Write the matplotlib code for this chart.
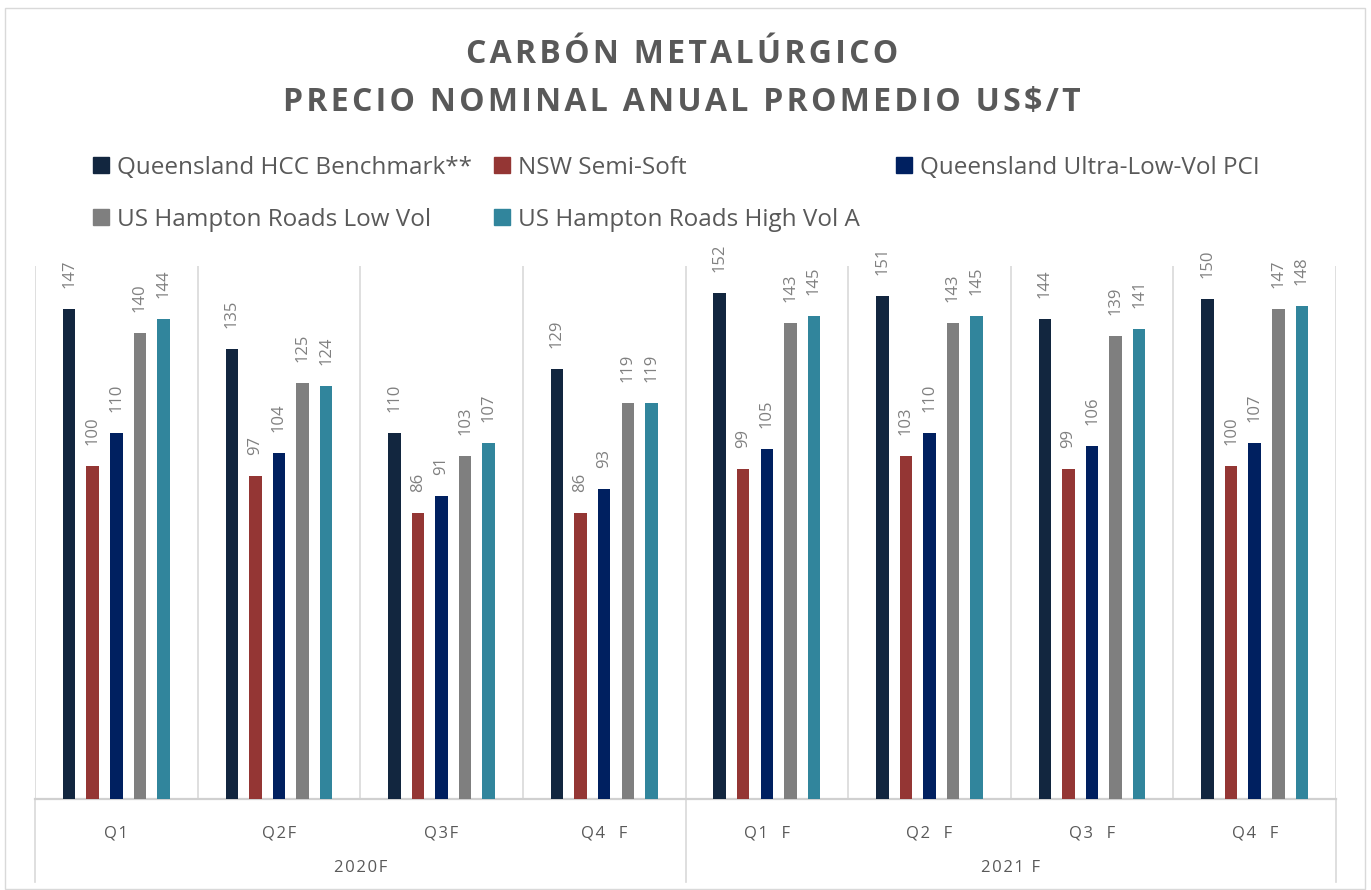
import numpy as np
import matplotlib.pyplot as plt
from matplotlib.patches import Rectangle

quarters = ["Q1", "Q2F", "Q3F", "Q4  F", "Q1  F", "Q2  F", "Q3  F", "Q4  F"]
years = ["2020F", "2021 F"]
series = ["Queensland HCC Benchmark**", "NSW Semi-Soft", "Queensland Ultra-Low-Vol PCI",
          "US Hampton Roads Low Vol", "US Hampton Roads High Vol A"]
hcc = [147, 135, 110, 129, 152, 151, 144, 150]
nsw = [100, 97, 86, 86, 99, 103, 99, 100]
pci = [110, 104, 91, 93, 105, 110, 106, 107]
low_vol = [140, 125, 103, 119, 143, 143, 139, 147]
high_vol = [144, 124, 107, 119, 145, 145, 141, 148]
colors = ["#12263f", "#943634", "#002060", "#7f7f7f", "#31859c"]

plt.rcParams['font.family'] = ['Open Sans', 'DejaVu Sans']
txt = "#595959"
W, H = 1371, 890

def spaced(s):
    # fake letter spacing with hair spaces
    return "\u200a".join(s)

fig = plt.figure(figsize=(W / 100, H / 100), dpi=100)
ax = fig.add_axes([35 / W, 1 - 799 / H, 1301 / W, 533 / H])

x = np.arange(len(quarters))
step = 0.145
for i, (vals, c) in enumerate(zip([hcc, nsw, pci, low_vol, high_vol], colors)):
    b = ax.bar(x + (i - 2) * step, vals, width=0.077, color=c, zorder=3)
    for rect, v in zip(b, vals):
        ax.annotate(str(v), (rect.get_x() + rect.get_width() / 2, v), xytext=(0, 15),
                    textcoords="offset points", rotation=90, ha="center", va="bottom",
                    fontsize=12, color="#808080", annotation_clip=False)

ax.set_xlim(-0.5, len(quarters) - 0.5)
ax.set_ylim(0, 160)
ax.set_yticks([])
ax.set_xticks(x)
ax.set_xticklabels([spaced(q) for q in quarters], fontsize=12, color=txt)
ax.tick_params(axis="x", length=0, pad=19)
ax.set_xticks(np.arange(len(quarters) + 1) - 0.5, minor=True)
ax.tick_params(axis="x", which="minor", length=0)
ax.grid(which="minor", axis="x", color="#d9d9d9", lw=1.2, zorder=0)
for s in ["top", "left", "right"]:
    ax.spines[s].set_visible(False)
ax.spines["bottom"].set_color("#d0d0d0")
ax.spines["bottom"].set_linewidth(1.6)

# year group labels and separators below the axis
tr = ax.get_xaxis_transform()
for xs in [-0.5, 3.5, 7.5]:
    ax.plot([xs, xs], [0, -0.156], transform=tr, color="#d9d9d9", lw=1.2, clip_on=False)
for j, yr in enumerate(years):
    ax.text(1.5 + 4 * j, -0.129, spaced(yr), transform=tr, ha="center", va="center",
            fontsize=12, color=txt)

fig.text(0.4975, 1 - 63 / H, spaced("CARBÓN METALÚRGICO"), ha="center", va="baseline",
         fontsize=23, fontweight="bold", color=txt)
fig.text(0.4975, 1 - 111 / H, spaced("PRECIO NOMINAL ANUAL PROMEDIO US$/T"), ha="center",
         va="baseline", fontsize=23, fontweight="bold", color=txt)

# legend: equal-width columns, filled row by row
col_x = [93, 494, 896]
row_y = [165, 217]
for k, (name, c) in enumerate(zip(series, colors)):
    cx, cy = col_x[k % 3], row_y[k // 3]
    fig.patches.append(Rectangle((cx / W, 1 - (cy + 8) / H), 16 / W, 16 / H,
                                 transform=fig.transFigure, color=c))
    fig.text((cx + 24) / W, 1 - (cy + 8.5) / H, name, ha="left", va="baseline",
             fontsize=17.5, color=txt)

fig.patches.append(Rectangle((5 / W, 1 / H), 1360 / W, 881 / H, transform=fig.transFigure,
                             fill=False, edgecolor="#d9d9d9", lw=1))

fig.savefig("out.png", dpi=100)
